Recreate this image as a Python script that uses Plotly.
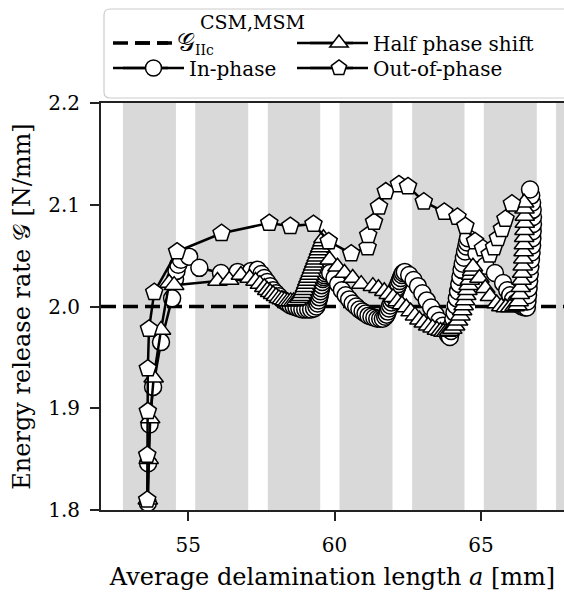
import plotly.graph_objects as go

# Average delamination length a [mm] and energy release rate G [N/mm]
in_phase_a = [
    53.62, 53.63, 53.68, 53.80, 54.07, 54.45, 54.55, 54.60, 54.66, 54.75,
    55.03, 55.38, 56.12, 56.69, 57.15, 57.37,
    57.50, 57.60, 57.70, 57.80, 57.90, 58.00, 58.10, 58.20, 58.30, 58.40,
    58.50, 58.60, 58.70, 58.80, 58.90, 59.00, 59.10, 59.20, 59.30, 59.38,
    59.42, 59.45, 59.48, 59.50, 59.52, 59.54, 59.56, 59.58, 59.60, 59.62,
    59.64, 59.67, 59.72,
    59.85, 60.00, 60.12, 60.25, 60.38, 60.50, 60.62, 60.74, 60.85, 60.96,
    61.06, 61.16, 61.26, 61.36, 61.46, 61.56, 61.65, 61.73,
    61.78, 61.82, 61.86, 61.90, 61.94, 61.98, 62.02, 62.06, 62.10, 62.14,
    62.18, 62.22, 62.26, 62.30, 62.34, 62.40,
    62.55, 62.70, 62.85, 63.00, 63.15, 63.30, 63.45, 63.58, 63.70, 63.80,
    63.88, 63.94,
    63.98, 64.02, 64.06, 64.10, 64.14, 64.18, 64.22, 64.26, 64.30, 64.34,
    64.38, 64.42, 64.46, 64.50, 64.53, 64.56,
    64.85, 65.15, 65.48, 65.76, 65.90, 66.00, 66.10, 66.20, 66.30, 66.40,
    66.50, 66.57,
    66.59, 66.61, 66.63, 66.65, 66.67, 66.69, 66.71, 66.73, 66.75, 66.76,
    66.77, 66.78, 66.78, 66.77, 66.75, 66.72, 66.68,
]
in_phase_g = [
    1.807, 1.846, 1.884, 1.921, 1.965, 2.008, 2.027, 2.035, 2.041, 2.046,
    2.049, 2.038, 2.033, 2.034, 2.035, 2.036,
    2.032, 2.028, 2.024, 2.020, 2.016, 2.013, 2.010, 2.007, 2.005, 2.003,
    2.001, 2.000, 1.999, 1.998, 1.997, 1.997, 1.997, 1.997, 1.998, 2.000,
    2.003, 2.006, 2.009, 2.012, 2.015, 2.018, 2.021, 2.024, 2.027, 2.029,
    2.031, 2.033, 2.035,
    2.033, 2.028, 2.022, 2.016, 2.011, 2.007, 2.003, 2.000, 1.997, 1.995,
    1.993, 1.991, 1.990, 1.989, 1.988, 1.988, 1.988, 1.990,
    1.992, 1.995, 1.998, 2.001, 2.004, 2.007, 2.010, 2.013, 2.016, 2.019,
    2.022, 2.025, 2.028, 2.031, 2.033, 2.034,
    2.031, 2.026, 2.020, 2.013, 2.006, 1.999, 1.992, 1.986, 1.981, 1.976,
    1.972, 1.970,
    1.976, 1.982, 1.988, 1.994, 2.001, 2.008, 2.015, 2.022, 2.029, 2.036,
    2.042, 2.048, 2.054, 2.059, 2.063, 2.067,
    2.052, 2.040, 2.033, 2.023, 2.016, 2.011, 2.007, 2.004, 2.002, 2.000,
    1.999, 1.999,
    2.005, 2.011, 2.018, 2.025, 2.032, 2.039, 2.046, 2.053, 2.060, 2.067,
    2.074, 2.081, 2.088, 2.095, 2.102, 2.109, 2.115,
]

half_shift_a = [
    53.62, 53.65, 53.70, 53.82, 54.07, 54.35, 54.52,
    56.00, 56.40, 56.80, 57.10, 57.30, 57.45, 57.60, 57.70, 57.80, 57.90,
    58.00, 58.10, 58.20, 58.30, 58.40, 58.50, 58.60, 58.70, 58.80, 58.86,
    58.91, 58.95, 58.99, 59.03, 59.07, 59.11, 59.15, 59.19, 59.23, 59.27,
    59.31, 59.35, 59.39, 59.43, 59.47, 59.51, 59.55, 59.59, 59.62,
    59.83, 60.10, 60.34, 60.62, 60.91, 61.31, 61.50, 61.70, 61.85, 62.00,
    62.15, 62.30, 62.45, 62.60, 62.75, 62.90, 63.05, 63.20, 63.35, 63.50,
    63.62, 63.72, 63.82, 63.92, 64.02, 64.12, 64.22,
    64.30, 64.36, 64.41, 64.46, 64.50, 64.54, 64.58, 64.62, 64.66, 64.70,
    64.73,
    64.95, 65.15, 65.31, 65.54, 65.70, 65.85, 66.00, 66.15, 66.25,
    66.29, 66.33, 66.36, 66.39, 66.41, 66.43, 66.45, 66.46, 66.47, 66.48,
    66.49, 66.50, 66.50, 66.49, 66.48,
]
half_shift_g = [
    1.810, 1.850, 1.890, 1.930, 1.977, 2.023, 2.021,
    2.025, 2.026, 2.031, 2.028, 2.025, 2.022, 2.019, 2.016, 2.014, 2.012,
    2.010, 2.008, 2.007, 2.006, 2.005, 2.005, 2.005, 2.006, 2.008, 2.010,
    2.013, 2.016, 2.019, 2.022, 2.025, 2.028, 2.031, 2.034, 2.037, 2.040,
    2.043, 2.046, 2.049, 2.052, 2.055, 2.058, 2.061, 2.064, 2.067,
    2.046, 2.039, 2.033, 2.028, 2.022, 2.020, 2.018, 2.015, 2.012, 2.009,
    2.005, 2.002, 1.999, 1.995, 1.991, 1.987, 1.984, 1.981, 1.979, 1.977,
    1.976, 1.975, 1.975, 1.976, 1.978, 1.981, 1.986,
    1.991, 1.996, 2.001, 2.006, 2.011, 2.016, 2.021, 2.026, 2.031, 2.035,
    2.039,
    2.028, 2.018, 2.010, 2.003, 2.000, 1.999, 1.999, 2.000, 2.001,
    2.005, 2.012, 2.019, 2.026, 2.033, 2.040, 2.047, 2.054, 2.061, 2.068,
    2.075, 2.082, 2.089, 2.096, 2.102,
]

out_phase_a = [
    53.60, 53.60, 53.62, 53.62, 53.66, 53.84, 54.62, 56.14, 57.77, 58.49,
    59.28, 59.80, 60.57, 61.13, 61.15, 61.35, 61.52, 61.75, 62.20, 62.51,
    63.05, 63.75, 64.20, 64.47, 64.80, 65.07, 65.30, 65.45, 65.58, 65.72,
    65.84, 66.06,
]
out_phase_g = [
    1.810, 1.854, 1.897, 1.939, 1.978, 2.014, 2.054, 2.072, 2.082, 2.079,
    2.081, 2.064, 2.052, 2.058, 2.070, 2.083, 2.098, 2.113, 2.120, 2.118,
    2.103, 2.093, 2.088, 2.079, 2.064, 2.057, 2.051, 2.058, 2.067, 2.076,
    2.086, 2.101,
]

# Critical mode II energy release rate
g_iic = 2.0

# Shaded segments along the delamination path [mm]
band_lo = [52.77, 55.24, 57.72, 60.17, 62.65, 65.10, 67.57]
band_hi = [54.58, 57.05, 59.51, 61.98, 64.44, 66.91, 69.40]

x_range = [52.02, 67.84]
y_range = [1.8, 2.2]
x_ticks = [55, 60, 65]
y_ticks = [1.8, 1.9, 2.0, 2.1, 2.2]

FONT = "DejaVu Serif"
FS = 20

# Pixel helpers for paper coordinates of the 564x592 canvas
W, H = 463.0, 407.0
def px(x):
    return (x - 101) / W
def py(y):
    return (510 - y) / H

fig = go.Figure()

fig.add_trace(go.Scatter(
    x=x_range, y=[g_iic, g_iic], mode="lines",
    line=dict(color="black", width=3.5, dash="15px,7px"),
    name="<span style='font-size:25px'>𝒢</span><sub>IIc</sub>",
    legend="legend", hoverinfo="skip",
))

marker_line = dict(color="black", width=1.5)
series = [
    (in_phase_a, in_phase_g, "circle", 17, "In-phase", "legend3"),
    (half_shift_a, half_shift_g, "triangle-up", 17, "Half phase shift", "legend2"),
    (out_phase_a, out_phase_g, "pentagon", 18, "Out-of-phase", "legend4"),
]
for xs, ys, sym, size, name, leg in series:
    fig.add_trace(go.Scatter(
        x=xs, y=ys, mode="lines+markers", name=name, legend=leg,
        line=dict(color="black", width=2.5),
        marker=dict(symbol=sym, size=size, color="white", line=marker_line),
    ))

shapes = []
for lo, hi in zip(band_lo, band_hi):
    shapes.append(dict(
        type="rect", xref="x", yref="paper", x0=lo, x1=hi, y0=0, y1=1,
        fillcolor="#d9d9d9", line=dict(width=0), layer="below",
    ))

# Legend frame with rounded corners
x0, x1, y0, y1, r = 104, 575, 9, 98, 6
path = (
    f"M {px(x0 + r)},{py(y0)} L {px(x1 - r)},{py(y0)} "
    f"Q {px(x1)},{py(y0)} {px(x1)},{py(y0 + r)} L {px(x1)},{py(y1 - r)} "
    f"Q {px(x1)},{py(y1)} {px(x1 - r)},{py(y1)} L {px(x0 + r)},{py(y1)} "
    f"Q {px(x0)},{py(y1)} {px(x0)},{py(y1 - r)} L {px(x0)},{py(y0 + r)} "
    f"Q {px(x0)},{py(y0)} {px(x0 + r)},{py(y0)} Z"
)
shapes.append(dict(
    type="path", xref="paper", yref="paper", path=path,
    fillcolor="white", line=dict(color="#cccccc", width=1.2), layer="below",
))

# Longer legend handles behind the legend markers
ROW1, ROW2 = 43, 68
handles = [
    (113, 168, ROW1, "15px,7px", 3.5),
    (113, 168, ROW2, "solid", 2.5),
    (297, 353, ROW1, "solid", 2.5),
    (297, 353, ROW2, "solid", 2.5),
]
for hx0, hx1, hy, dash, lw in handles:
    shapes.append(dict(
        type="line", xref="paper", yref="paper",
        x0=px(hx0), x1=px(hx1), y0=py(hy), y1=py(hy),
        line=dict(color="black", width=lw, dash=dash), layer="below",
    ))

def legend_box(xpx, ypx, itemwidth):
    return dict(
        orientation="v", x=px(xpx), xanchor="left", y=py(ypx), yanchor="middle",
        bgcolor="rgba(0,0,0,0)", borderwidth=0, itemwidth=itemwidth,
        font=dict(family=FONT, size=FS, color="black"),
    )

axis_common = dict(
    showgrid=False, zeroline=False, showline=True, linecolor="#222222",
    linewidth=2, ticks="outside", ticklen=9, tickwidth=2, tickcolor="#222222",
    tickfont=dict(family=FONT, size=FS, color="black"), automargin=False,
)

fig.update_layout(
    template="none",
    width=564, height=592,
    margin=dict(l=101, r=0, t=103, b=82, autoexpand=False),
    paper_bgcolor="white", plot_bgcolor="white",
    font=dict(family=FONT, size=FS, color="black"),
    shapes=shapes,
    showlegend=True,
    legend=legend_box(130, ROW1, 37),
    legend2=legend_box(305, ROW1, 58),
    legend3=legend_box(118, ROW2, 61),
    legend4=legend_box(305, ROW2, 58),
    annotations=[dict(
        text="CSM,MSM", xref="paper", yref="paper", x=px(198), y=py(22),
        xanchor="left", yanchor="middle", showarrow=False,
        font=dict(family=FONT, size=19, color="black"),
    )],
    xaxis=dict(
        range=x_range, tickvals=x_ticks, mirror=True,
        title=dict(text="Average delamination length <i>a</i> [mm]", standoff=12),
        ticklabelstandoff=7, **axis_common,
    ),
    yaxis=dict(
        range=y_range, tickvals=y_ticks, tickformat=".1f",
        title=dict(text="Energy release rate 𝒢 [N/mm]", standoff=11),
        ticklabelstandoff=6, **axis_common,
    ),
)

fig.write_html("out.html")
